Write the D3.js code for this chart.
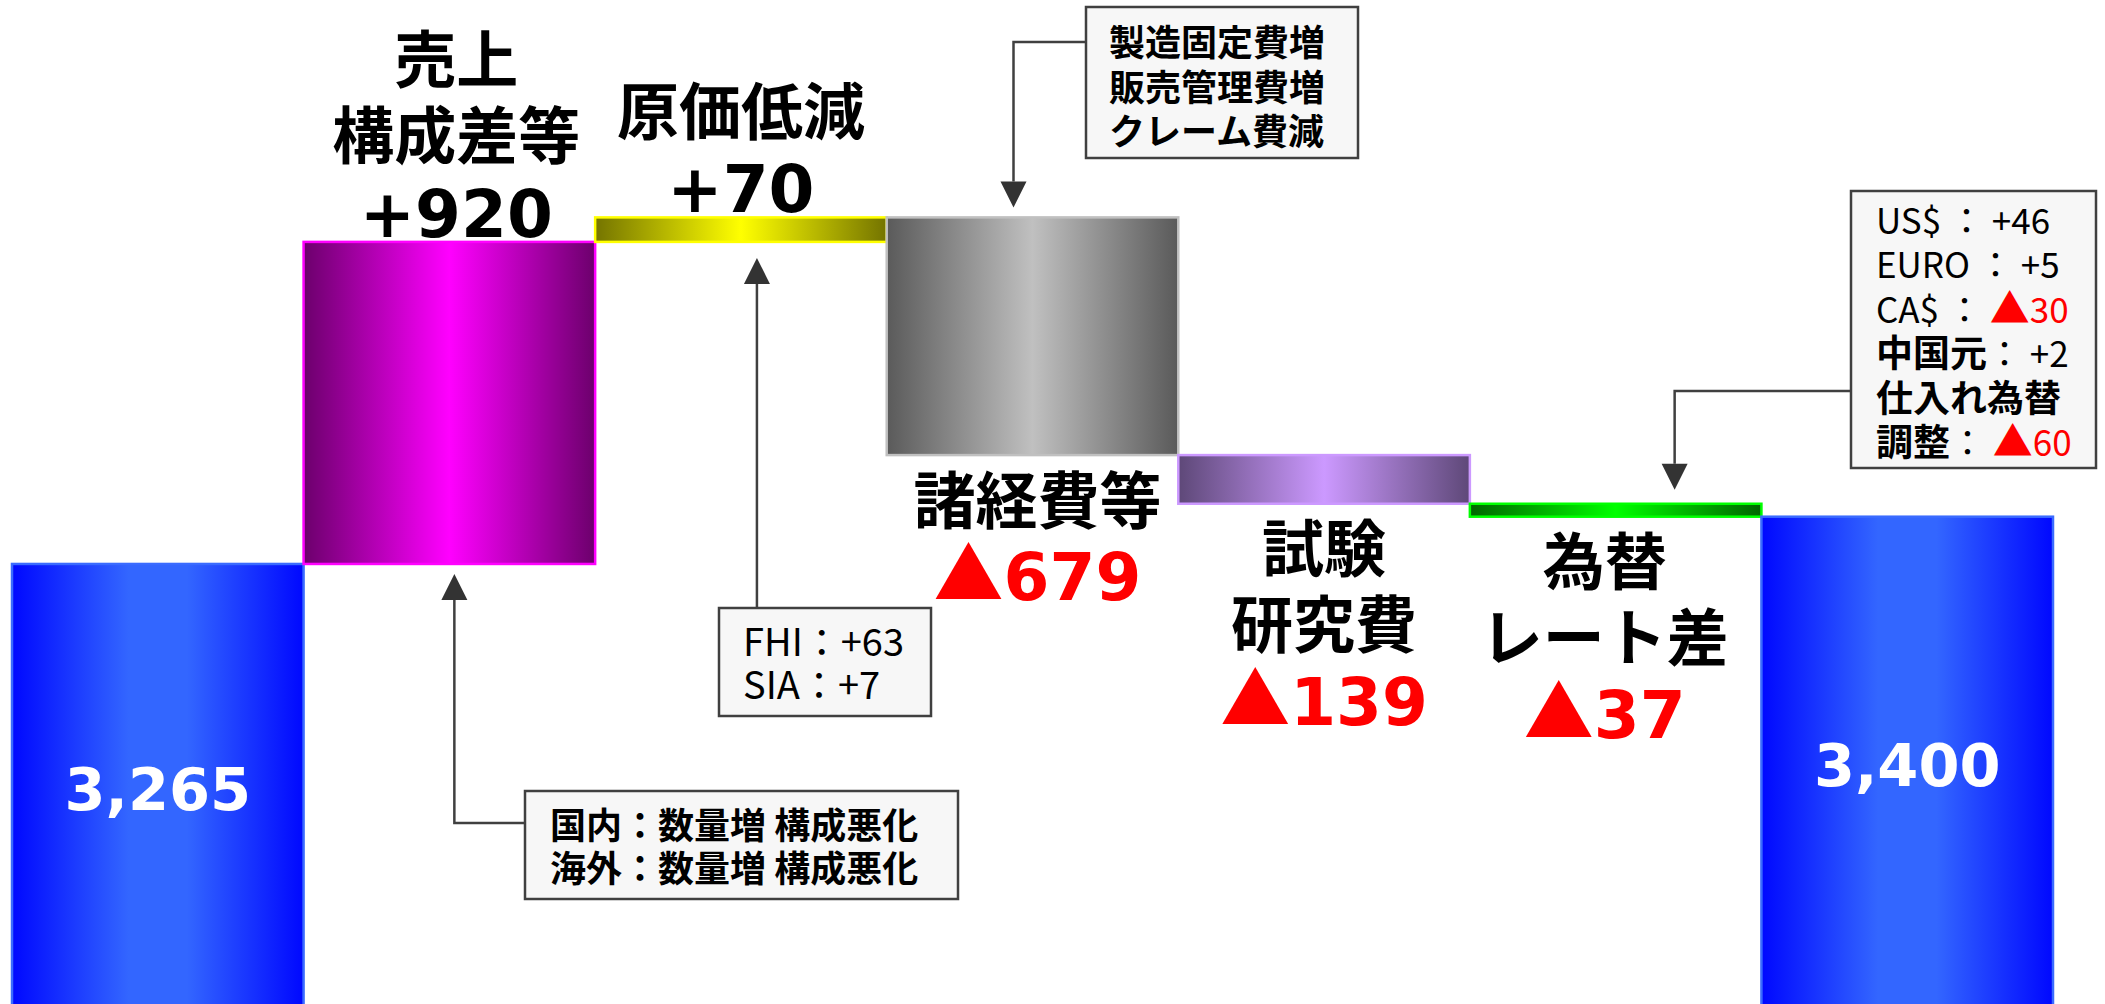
<!DOCTYPE html>
<html>
<head>
<meta charset="utf-8">
<script src="https://cdn.jsdelivr.net/npm/d3@7"></script>
<style>
  body { margin: 0; background: #fff; }
  svg { display: block; }
</style>
</head>
<body>
<div id="chart"></div>
<script>
// ---- data ----
const steps = ["前年", "売上構成差等", "原価低減", "諸経費等", "試験研究費", "為替レート差", "当年"];
const stepLines = [[], ["売上", "構成差等"], ["原価低減"], ["諸経費等"], ["試験", "研究費"], ["為替", "レート差"], []];
const amounts = [3265, 920, 70, -679, -139, -37, 3400];
const isTotal = [true, false, false, false, false, false, true];

const barEdge = ["#0008ff", "#6c006c", "#747400", "#5a5a5a", "#5e4878", "#006400", "#0008ff"];
const barMid  = ["#3366ff", "#ff00ff", "#ffff00", "#c0c0c0", "#cc99ff", "#00ff00", "#3366ff"];
const barLine = ["#3a6bff", "#ff00ff", "#ffff00", "#c0c0c0", "#cc99ff", "#00ff00", "#3a6bff"];

const notesSales = ["国内：数量増 構成悪化", "海外：数量増 構成悪化"];
const notesCost = ["FHI：+63", "SIA：+7"];
const notesExpense = ["製造固定費増", "販売管理費増", "クレーム費減"];
const notesFx = [
  [["US$ ： +46", "n"]],
  [["EURO ： +5", "n"]],
  [["CA$ ： ", "n"], ["▲", "rt"], ["30", "r"]],
  [["中国元", "b"], ["： +2", "n"]],
  [["仕入れ為替", "b"]],
  [["調整", "b"], ["： ", "n"], ["▲", "rt"], ["60", "r"]]
];

// ---- layout ----
const W = 2105, H = 1004;
const jp = "'Noto Sans CJK JP', sans-serif";
const num = "'DejaVu Sans', sans-serif";
const labelDx = [0, 7, 0, 5, 0, -11, 0];

const svg = d3.select("#chart").append("svg")
    .attr("width", W)
    .attr("height", H);

const x = d3.scaleBand()
    .domain(steps)
    .range([12, 2053])
    .padding(0);

const y = d3.scaleLinear()
    .domain([2008, 4876])
    .range([H, 0]);

// running totals for the waterfall
let run = 0;
const rows = amounts.map((v, i) => {
    let a, b;
    if (isTotal[i]) { a = 0; b = v; run = v; }
    else { a = run; b = run + v; run += v; }
    return { i: i, step: steps[i], v: v, lo: Math.min(a, b), hi: Math.max(a, b) };
});

// gradients
const defs = svg.append("defs");
rows.forEach(d => {
    const gr = defs.append("linearGradient")
        .attr("id", "grad" + d.i)
        .attr("x1", 0).attr("x2", 1).attr("y1", 0).attr("y2", 0);
    const wide = isTotal[d.i];
    gr.append("stop").attr("offset", 0).attr("stop-color", barEdge[d.i]);
    gr.append("stop").attr("offset", wide ? 0.4 : 0.5).attr("stop-color", barMid[d.i]);
    gr.append("stop").attr("offset", wide ? 0.6 : 0.5).attr("stop-color", barMid[d.i]);
    gr.append("stop").attr("offset", 1).attr("stop-color", barEdge[d.i]);
});

// bars
svg.append("g").selectAll("rect")
    .data(rows)
    .enter().append("rect")
    .attr("x", d => x(d.step))
    .attr("width", x.bandwidth())
    .attr("y", d => y(d.hi))
    .attr("height", d => y(d.lo) - y(d.hi))
    .style("fill", d => "url(#grad" + d.i + ")")
    .style("stroke", d => barLine[d.i])
    .style("stroke-width", 2.5);

// totals inside the blue bars
svg.append("g").selectAll("text")
    .data(rows.filter(d => isTotal[d.i]))
    .enter().append("text")
    .attr("x", d => x(d.step) + x.bandwidth() / 2)
    .attr("y", d => (y(d.hi) + H) / 2 + 26)
    .attr("text-anchor", "middle")
    .style("font-family", num)
    .style("font-weight", "bold")
    .style("font-size", "59px")
    .style("fill", "#fff")
    .text(d => d3.format(",")(d.v));

// category + delta labels
const fsCat = 62, fsVal = 66, pitch = 76;
rows.filter(d => !isTotal[d.i]).forEach(d => {
    const cx = x(d.step) + x.bandwidth() / 2 + labelDx[d.i];
    const lines = stepLines[d.i];
    const n = lines.length;
    let centers, valBase;
    if (d.v > 0) {
        const top = y(d.hi);
        centers = lines.map((l, j) => top - 30 - pitch * (n - j));
        valBase = top - 5;
    } else {
        const bottom = y(d.lo);
        centers = lines.map((l, j) => bottom + 45 + pitch * j);
        valBase = bottom + 45 + pitch * n + 24;
    }
    lines.forEach((l, j) => {
        svg.append("text")
            .attr("x", cx)
            .attr("y", centers[j] + fsCat * 0.38)
            .attr("text-anchor", "middle")
            .style("font-family", jp)
            .style("font-weight", "bold")
            .style("font-size", fsCat + "px")
            .style("fill", "#000")
            .text(l);
    });
    const t = svg.append("text")
        .attr("x", cx)
        .attr("y", valBase)
        .attr("text-anchor", "middle")
        .style("font-family", num)
        .style("font-weight", "bold")
        .style("font-size", fsVal + "px")
        .style("fill", d.v > 0 ? "#000" : "#ff0000");
    if (d.v > 0) {
        t.text("+" + d.v);
    } else {
        t.append("tspan").style("font-family", jp).style("font-size", "70px").text("▲");
        t.append("tspan").text(Math.abs(d.v));
    }
});

// ---- annotations ----
const ann = svg.append("g");

function box(bx, by, bw, bh) {
    ann.append("rect")
        .attr("x", bx).attr("y", by)
        .attr("width", bw).attr("height", bh)
        .style("fill", "#f7f7f7")
        .style("stroke", "#404040")
        .style("stroke-width", 2.5);
}

function arrow(pts) {
    const tip = pts[pts.length - 1];
    const prev = pts[pts.length - 2];
    const dir = tip[1] > prev[1] ? 1 : -1;
    const base = [tip[0], tip[1] - dir * 26];
    const linePts = pts.slice(0, -1).concat([base]);
    ann.append("path")
        .attr("d", d3.line()(linePts))
        .style("fill", "none")
        .style("stroke", "#404040")
        .style("stroke-width", 2.5);
    ann.append("path")
        .attr("d", d3.line()([[tip[0], tip[1]], [tip[0] - 13, base[1]], [tip[0] + 13, base[1]]]) + "Z")
        .style("fill", "#333");
}

function lineText(tx, ty, str, weight, size) {
    ann.append("text")
        .attr("x", tx).attr("y", ty)
        .style("font-family", jp)
        .style("font-weight", weight)
        .style("font-size", size + "px")
        .style("fill", "#000")
        .text(str);
}

const bw = x.bandwidth();
const mid = i => x(steps[i]) + bw / 2;

// sales mix note
const tipSales = [mid(1) + 5, y(rows[1].lo) + 10];
arrow([[525, 823], [tipSales[0], 823], tipSales]);
box(525, 791, 433, 108);
notesSales.forEach((s, k) => lineText(550, 839 + 43 * k, s, "bold", 36));

// cost reduction note
const tipCost = [mid(2) + 16, y(rows[2].lo) + 16];
arrow([[tipCost[0], 608], tipCost]);
box(719, 608, 212, 108);
notesCost.forEach((s, k) => lineText(743, 656 + 43 * k, s, "normal", 38));

// expense note
const tipExp = [mid(3) - 19, y(rows[3].hi) - 10];
arrow([[1086, 42], [tipExp[0], 42], tipExp]);
box(1086, 7, 272, 151);
notesExpense.forEach((s, k) => lineText(1109, 56 + 44.5 * k, s, "bold", 36));

// fx note
const tipFx = [mid(5) + 59, y(rows[5].hi) - 14];
arrow([[1851, 391], [tipFx[0], 391], tipFx]);
box(1851, 191, 245, 277);
notesFx.forEach((segs, k) => {
    const t = ann.append("text")
        .attr("x", 1876)
        .attr("y", 234 + 44.4 * k)
        .style("font-family", jp)
        .style("font-size", "35px");
    segs.forEach(sg => {
        t.append("tspan")
            .style("font-weight", sg[1] === "b" ? "bold" : "normal")
            .style("font-size", sg[1] === "b" ? "37px" : (sg[1] === "rt" ? "40px" : "35px"))
            .style("fill", sg[1] === "r" || sg[1] === "rt" ? "#ff0000" : "#000")
            .text(sg[0]);
    });
});
</script>
</body>
</html>
